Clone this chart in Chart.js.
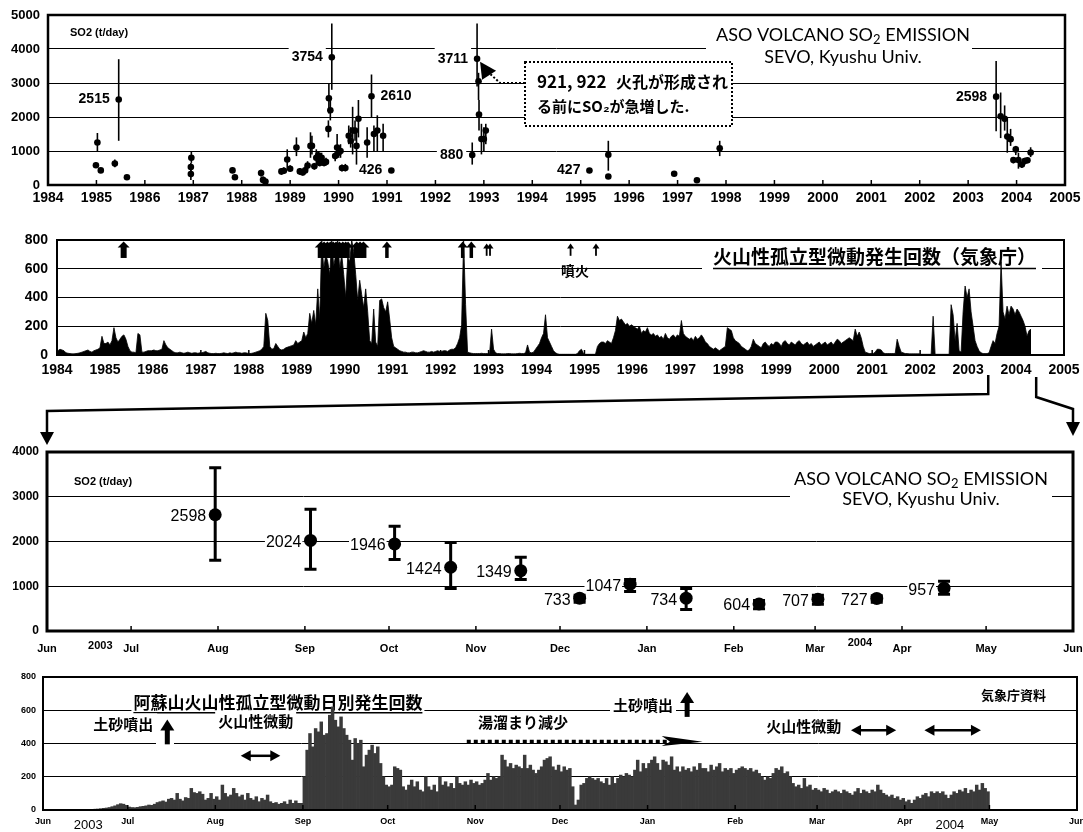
<!DOCTYPE html>
<html>
<head>
<meta charset="utf-8">
<script src="https://cdn.jsdelivr.net/npm/chart.js@4.4.1/dist/chart.umd.min.js"></script>
<style>
body { margin: 0; background: #fff; }
#wrap { position: relative; width: 1083px; height: 832px; overflow: hidden; background: #fff; }
canvas { position: absolute; left: 0; }
</style>
</head>
<body>
<div id="wrap">
<canvas id="c1" width="1083" height="212" style="top:0px"></canvas>
<canvas id="c2" width="1083" height="172" style="top:212px"></canvas>
<canvas id="c3" width="1083" height="278" style="top:384px"></canvas>
<canvas id="c4" width="1083" height="170" style="top:662px"></canvas>
<canvas id="ov" width="1083" height="832" style="top:0px"></canvas>
</div>
<script>
// ---- top panel: SO2 emission 1984-1998 (t/day) ----
var so2Years = [1984.99, 1985.02, 1985.09, 1985.38, 1985.46, 1985.63, 1986.95, 1986.95, 1986.96, 1987.81,
  1987.86, 1988.40, 1988.44, 1988.49, 1988.82, 1988.87, 1988.94, 1989.00, 1989.13, 1989.20,
  1989.26, 1989.31, 1989.36, 1989.42, 1989.45, 1989.50, 1989.54, 1989.58, 1989.61, 1989.65,
  1989.70, 1989.74, 1989.79, 1989.80, 1989.83, 1989.86, 1989.93, 1989.97, 1990.00, 1990.04,
  1990.07, 1990.14, 1990.21, 1990.25, 1990.29, 1990.34, 1990.37, 1990.41, 1990.59, 1990.68,
  1990.73, 1990.80, 1990.92, 1991.09, 1992.76, 1992.86, 1992.89, 1992.90, 1992.95, 1993.00,
  1993.04, 1995.18, 1995.57, 1995.57, 1996.93, 1997.40, 1997.87];
var so2Vals = [580, 1250, 430, 630, 2515, 230, 320, 530, 800, 430,
  230, 350, 150, 100, 400, 420, 750, 480, 1100, 400,
  370, 430, 570, 1150, 1150, 550, 800, 870, 650, 800,
  650, 680, 1650, 2550, 2200, 3754, 850, 1100, 950, 1000,
  500, 500, 1450, 1300, 1600, 1600, 1150, 1950, 1250, 2610,
  1500, 1600, 1450, 426, 880, 3711, 3050, 2070, 1350, 1350,
  1600, 427, 890, 250, 330, 140, 1080];
var so2Lo = [500, 1000, null, 520, 1300, null, 150, 400, 650, 350,
  null, 250, 50, 30, 300, 320, 450, 400, 850, 300,
  280, 330, 450, 800, 900, 450, 600, 750, 550, 650,
  550, 580, 1400, 2100, 1900, 2800, 700, 800, 800, 800,
  400, 400, 1200, 1100, 900, 1300, 600, 1400, 800, 2000,
  1000, 1000, 1000, null, 600, 2900, 2500, 1600, 900, 1000,
  1200, 350, 420, null, null, null, 850];
var so2Hi = [660, 1530, null, 750, 3700, null, 450, 650, 1000, 520,
  null, 450, 250, 170, 500, 520, 1050, 580, 1400, 500,
  470, 550, 700, 1550, 1450, 650, 1050, 1000, 750, 950,
  750, 800, 1900, 3000, 2500, 4750, 1000, 1500, 1100, 1200,
  600, 620, 1750, 1700, 2300, 1900, 1600, 2500, 1700, 3250,
  1750, 2050, 1800, null, 1250, 4750, 3300, 2500, 1800, 1700,
  1800, 500, 1300, null, null, null, 1300];
var so2Tags = [2515, 3754, 2610, 426, 880, 3711, 427, 2598];
var so2TagSide = ['l', 'l', 'r', 'l', 'l', 'l', 'l', 'l'];

// ---- SO2 2003-2004 (days from 1 Jun 2003) ----
var so3Days = [60, 94, 124, 144, 169, 190, 208, 228, 254, 275, 296, 320];
var so3Vals = [2598, 2024, 1946, 1424, 1349, 733, 1047, 734, 604, 707, 727, 957];
var so3Lo = [1580, 1380, 1600, 950, 1150, 640, 880, 480, 500, 600, 640, 820];
var so3Hi = [3650, 2720, 2340, 1980, 1650, 800, 1150, 950, 680, 800, 790, 1110];

// ---- isolated volcanic tremor counts, half-month samples ----
var tremor1984 = [30, 40, 35, 30, 15, 12, 10, 8, 8, 10, 12, 15, 20, 25, 30, 35, 25, 20, 30, 35, 40, 50, 130, 80];
var tremor1985 = [80, 90, 70, 100, 190, 120, 90, 110, 130, 140, 110, 60, 30, 20, 20, 15, 150, 140, 20, 20, 25, 30, 30, 30];
var tremor1986 = [35, 30, 30, 35, 40, 100, 70, 50, 40, 30, 20, 15, 15, 20, 15, 12, 15, 20, 15, 12, 15, 15, 12, 15];
var tremor1987 = [15, 20, 25, 15, 12, 10, 10, 12, 10, 10, 12, 15, 12, 10, 15, 12, 15, 20, 15, 15, 12, 15, 15, 12];
var tremor1988 = [10, 12, 15, 20, 25, 30, 40, 60, 290, 240, 60, 40, 45, 80, 60, 40, 35, 40, 50, 55, 60, 65, 70, 100];
var tremor1989 = [80, 90, 100, 160, 120, 150, 290, 220, 310, 210, 460, 250, 800, 600, 700, 650, 560, 800, 620, 700, 800, 600, 700, 560];
var tremor1990 = [400, 680, 650, 800, 720, 560, 380, 520, 420, 330, 460, 300, 100, 80, 320, 90, 60, 380, 390, 330, 300, 370, 250, 120];
var tremor1991 = [60, 50, 40, 30, 25, 20, 20, 15, 15, 20, 20, 15, 15, 20, 25, 30, 25, 20, 20, 25, 20, 25, 30, 25];
var tremor1992 = [25, 30, 30, 25, 35, 40, 40, 50, 80, 120, 210, 800, 350, 20, 15, 12, 10, 10, 10, 10, 12, 10, 10, 10];
var tremor1993 = [10, 180, 40, 15, 10, 10, 8, 8, 8, 10, 10, 8, 8, 8, 10, 12, 10, 10, 15, 70, 20, 15, 20, 40];
var tremor1994 = [60, 80, 120, 150, 280, 120, 90, 60, 30, 15, 8, 5, 5, 5, 5, 5, 5, 5, 5, 5, 10, 30, 40, 10];
var tremor1995 = [5, 5, 5, 5, 5, 5, 60, 80, 90, 90, 80, 100, 90, 80, 120, 170, 270, 240, 250, 230, 210, 220, 200, 210];
var tremor1996 = [200, 190, 180, 200, 150, 170, 160, 190, 150, 140, 150, 130, 140, 120, 130, 110, 150, 120, 110, 130, 140, 120, 140, 130];
var tremor1997 = [240, 150, 130, 120, 110, 120, 100, 130, 110, 120, 140, 120, 90, 80, 60, 50, 40, 50, 40, 30, 40, 50, 60, 190];
var tremor1998 = [180, 170, 120, 100, 90, 80, 60, 50, 40, 30, 35, 60, 110, 80, 70, 60, 50, 80, 90, 70, 60, 80, 70, 90];
var tremor1999 = [90, 80, 60, 90, 100, 80, 70, 90, 80, 70, 90, 100, 80, 70, 80, 90, 70, 80, 60, 70, 80, 90, 70, 80];
var tremor2000 = [90, 70, 80, 90, 70, 90, 110, 100, 80, 90, 100, 110, 120, 110, 100, 180, 130, 160, 120, 60, 20, 15, 10, 10];
var tremor2001 = [10, 20, 40, 40, 35, 15, 10, 10, 10, 10, 10, 10, 110, 60, 20, 15, 10, 10, 8, 8, 8, 8, 8, 8];
var tremor2002 = [5, 5, 5, 5, 5, 5, 270, 5, 5, 5, 5, 5, 5, 5, 5, 350, 280, 100, 220, 30, 20, 300, 480, 400];
var tremor2003 = [460, 300, 200, 100, 60, 30, 15, 10, 10, 10, 15, 60, 100, 80, 150, 200, 650, 300, 250, 340, 280, 340, 320, 280];
var tremor2004 = [320, 300, 270, 240, 200, 130, 170, 180];

// eruption arrows (year) and size: 2 thick, 1 medium, 0 thin
var eruptYears = [1985.39, 1989.50, 1989.57, 1989.64, 1989.70, 1989.76, 1989.82, 1989.89, 1989.96, 1990.02, 1990.07,
  1990.25, 1990.32, 1990.39, 1990.88, 1992.46, 1992.64, 1992.96, 1993.03, 1994.71, 1995.24];
var eruptKind = [2, 2, 2, 2, 2, 2, 2, 2, 2, 2, 1, 2, 2, 2, 1, 1, 1, 0, 0, 0, 0];

// ---- daily tremor counts Jun 2003 - Apr 2004 ----
var jun03 = [0, 0, 0, 1, 0, 0, 1, 0, 0, 1, 1, 0, 2, 1, 2, 3, 2, 4, 5, 6, 8, 10, 12, 15, 20, 25, 32, 38, 35, 28];
var jul03 = [18, 15, 14, 16, 20, 22, 25, 30, 28, 35, 45, 50, 55, 48, 65, 70, 60, 100, 65, 55, 75, 70, 130, 105, 100, 110, 95, 60, 70, 100, 65];
var aug03 = [80, 60, 150, 100, 80, 90, 130, 100, 80, 90, 60, 100, 70, 60, 80, 50, 70, 60, 90, 50, 40, 45, 35, 40, 50, 35, 60, 40, 55, 40, 40];
var sep03 = [200, 360, 460, 380, 490, 470, 530, 450, 460, 570, 620, 540, 500, 560, 490, 450, 420, 300, 430, 400, 420, 260, 330, 360, 390, 340, 380, 280, 200, 150];
var oct03 = [140, 150, 260, 250, 240, 140, 120, 150, 180, 140, 170, 120, 110, 200, 140, 120, 150, 110, 200, 150, 170, 140, 160, 130, 200, 160, 150, 170, 150, 180, 160];
var nov03 = [170, 150, 160, 180, 220, 180, 200, 190, 200, 330, 300, 260, 280, 250, 270, 260, 250, 330, 250, 270, 240, 220, 240, 260, 300, 310, 320, 260, 240, 270];
var dec03 = [230, 260, 240, 250, 140, 30, 60, 150, 160, 190, 200, 190, 180, 190, 170, 160, 190, 150, 200, 160, 190, 210, 200, 220, 210, 200, 240, 300, 230, 280, 250];
var jan04 = [280, 300, 320, 280, 240, 300, 290, 270, 320, 240, 260, 230, 260, 240, 250, 230, 260, 240, 280, 250, 250, 230, 270, 240, 260, 280, 230, 250, 240, 250, 220];
var feb04 = [240, 250, 260, 250, 240, 250, 230, 240, 220, 200, 180, 200, 190, 220, 250, 240, 260, 220, 230, 200, 160, 140, 150, 130, 190, 140, 150, 120, 130];
var mar04 = [120, 110, 130, 120, 100, 110, 120, 110, 100, 120, 110, 100, 90, 110, 130, 100, 120, 110, 100, 120, 110, 150, 120, 100, 90, 80, 90, 70, 80, 60, 70];
var apr04 = [50, 60, 40, 60, 80, 70, 90, 100, 80, 110, 100, 110, 100, 110, 90, 70, 90, 110, 100, 120, 110, 130, 100, 120, 110, 150, 120, 160, 130, 110];

var monthStart = [0, 30, 61, 92, 122, 153, 183, 214, 245, 274, 305, 335, 366];
var monthNames = ['Jun', 'Jul', 'Aug', 'Sep', 'Oct', 'Nov', 'Dec', 'Jan', 'Feb', 'Mar', 'Apr', 'May', 'Jun'];

Chart.defaults.font.family = "'Liberation Sans', Arial, sans-serif";
Chart.defaults.color = '#000';
var NARROW = "'Liberation Sans Narrow', 'Liberation Sans', Arial, sans-serif";
var JP = "'Noto Sans CJK JP', sans-serif";
var LATO = "Lato, 'Liberation Sans', sans-serif";

function dayToYear(d) { return 2003 + (151 + d) / 365; }

function put(c, s, x, y, font, align, pad) {
  c.font = font;
  c.textAlign = align;
  c.textBaseline = 'middle';
  if (pad != null) {
    var w = c.measureText(s).width;
    var x0 = align === 'right' ? x - w : (align === 'center' ? x - w / 2 : x);
    c.fillStyle = '#fff';
    c.fillRect(x0 - pad, y - 11, w + 2 * pad, 22);
  }
  c.fillStyle = '#000';
  c.fillText(s, x, y);
}

function underline(c, s, x, y, font, align, size) {
  c.font = font;
  var w = c.measureText(s).width;
  var x0 = align === 'right' ? x - w : (align === 'center' ? x - w / 2 : x);
  put(c, s, x, y, font, align);
  c.lineWidth = 1.5;
  c.beginPath(); c.moveTo(x0, y + size / 2 + 2); c.lineTo(x0 + w, y + size / 2 + 2); c.stroke();
}

function soTitle(c, cx, y, size) {
  var f = size + 'px ' + LATO, fs = Math.round(size * 0.7) + 'px ' + LATO;
  var a = 'ASO VOLCANO SO', b = ' EMISSION';
  c.font = f;
  var wa = c.measureText(a).width, wb = c.measureText(b).width;
  c.font = fs;
  var w2 = c.measureText('2').width;
  var x = cx - (wa + w2 + wb) / 2;
  c.fillStyle = '#000'; c.textAlign = 'left'; c.textBaseline = 'middle';
  c.font = f; c.fillText(a, x, y);
  c.font = fs; c.fillText('2', x + wa, y + size * 0.28);
  c.font = f; c.fillText(b, x + wa + w2, y);
}

function upArrow(c, x, yTip, yTail, sw, hw, hl) {
  c.fillRect(x - sw / 2, yTip + hl - 1, sw, yTail - yTip - hl + 1);
  c.beginPath(); c.moveTo(x, yTip); c.lineTo(x - hw, yTip + hl); c.lineTo(x + hw, yTip + hl); c.closePath(); c.fill();
}

function dblArrow(c, x1, x2, y) {
  c.lineWidth = 2.5;
  c.beginPath(); c.moveTo(x1 + 6, y); c.lineTo(x2 - 6, y); c.stroke();
  c.beginPath(); c.moveTo(x1, y); c.lineTo(x1 + 10, y - 5.5); c.lineTo(x1 + 10, y + 5.5); c.closePath(); c.fill();
  c.beginPath(); c.moveTo(x2, y); c.lineTo(x2 - 10, y - 5.5); c.lineTo(x2 - 10, y + 5.5); c.closePath(); c.fill();
}

function framePlugin(w) {
  return {
    id: 'frame',
    afterDraw: function (chart) {
      var a = chart.chartArea, c = chart.ctx, xs = chart.scales.x;
      c.save();
      c.strokeStyle = '#000';
      c.lineWidth = 1.5;
      xs.ticks.forEach(function (t) {
        var x = xs.getPixelForValue(t.value);
        c.beginPath(); c.moveTo(x, a.bottom); c.lineTo(x, a.bottom - 5); c.stroke();
      });
      c.lineWidth = w;
      c.strokeRect(a.left, a.top, a.right - a.left, a.bottom - a.top);
      c.restore();
    }
  };
}

// fixed axis sizes, no automatic label padding
function fixH(h) { return function (s) { s.height = h; s.paddingLeft = 0; s.paddingRight = 0; }; }
function fixW(w) { return function (s) { s.width = w; s.paddingTop = 0; s.paddingBottom = 0; }; }

function baseOpts(pad) {
  return {
    responsive: false,
    animation: false,
    layout: { padding: pad },
    plugins: { legend: { display: false }, tooltip: { enabled: false } },
    scales: {}
  };
}

function yearAxis(pad, h) {
  return {
    type: 'linear', min: 1984, max: 2005, offset: false,
    grid: { display: false, drawTicks: false }, border: { display: false },
    ticks: { stepSize: 1, padding: pad, autoSkip: false, maxRotation: 0, font: { size: 14, weight: 'bold' }, callback: function (v) { return String(v); } },
    afterFit: fixH(h)
  };
}

function monthAxis(pad, size, h) {
  return {
    type: 'linear', min: 0, max: 366, offset: false,
    grid: { display: false, drawTicks: false }, border: { display: false },
    afterBuildTicks: function (s) { s.ticks = monthStart.map(function (v) { return { value: v }; }); },
    ticks: { padding: pad, autoSkip: false, maxRotation: 0, font: { size: size, weight: 'bold', family: NARROW }, callback: function (v, i) { return monthNames[i]; } },
    afterFit: fixH(h)
  };
}

function valAxis(max, step, size, pad, w) {
  return {
    min: 0, max: max,
    grid: { color: '#000', lineWidth: 1, drawTicks: false }, border: { display: false },
    ticks: { stepSize: step, padding: pad, font: { size: size, weight: 'bold', family: size < 13 ? NARROW : undefined }, callback: function (v) { return String(v); } },
    afterFit: fixW(w)
  };
}

// ================= chart 1 =================
var c1x = so2Years.concat(so3Days.map(dayToYear));
var c1v = so2Vals.concat(so3Vals);
var c1lo = so2Lo.concat(so3Lo);
var c1hi = so2Hi.concat(so3Hi);

var o1 = baseOpts({ top: 15, right: 18, left: 0, bottom: 0 });
o1.scales = { x: yearAxis(5, 27), y: valAxis(5000, 1000, 13, 8, 48) };

var ch1 = new Chart(document.getElementById('c1'), {
  type: 'scatter',
  data: { datasets: [{ data: c1x.map(function (x, i) { return { x: x, y: c1v[i] }; }), pointRadius: 3.3, pointBackgroundColor: '#000', pointBorderWidth: 0 }] },
  options: o1,
  plugins: [{
    id: 'p1',
    beforeDatasetsDraw: function (chart) {
      var c = chart.ctx, xs = chart.scales.x, ys = chart.scales.y, a = chart.chartArea;
      c.save();
      // title block
      c.fillStyle = '#fff';
      c.fillRect(706, a.top + 10, 266, 42);
      soTitle(c, 843, a.top + 20, 18);
      put(c, 'SEVO, Kyushu Univ.', 843, a.top + 42, '18px ' + LATO, 'center');
      put(c, 'SO2 (t/day)', a.left + 22, a.top + 18, 'bold 11px ' + NARROW, 'left');
      // note box
      c.fillStyle = '#fff';
      c.fillRect(525, 62, 207, 64);
      c.setLineDash([2, 2]); c.lineWidth = 2; c.strokeStyle = '#000';
      c.strokeRect(525, 62, 207, 64);
      c.setLineDash([]);
      put(c, '921, 922', 537, 82, 'bold 17px ' + JP, 'left');
      put(c, '火孔が形成され', 728, 82, 'bold 16px ' + JP, 'right');
      put(c, 'る前にSO₂が急増した.', 537, 106, 'bold 15px ' + JP, 'left');
      // value tags
      so2Tags.forEach(function (v, k) {
        var i = c1v.indexOf(v);
        var px = xs.getPixelForValue(c1x[i]), py = ys.getPixelForValue(v);
        if (so2TagSide[k] === 'l') put(c, String(v), px - 9, py, 'bold 14px ' + NARROW, 'right', 3);
        else put(c, String(v), px + 9, py, 'bold 14px ' + NARROW, 'left', 3);
      });
      // error bars
      c.strokeStyle = '#000'; c.lineWidth = 1.6;
      c1x.forEach(function (x, i) {
        if (c1lo[i] == null) return;
        var px = xs.getPixelForValue(x);
        c.beginPath(); c.moveTo(px, ys.getPixelForValue(c1lo[i])); c.lineTo(px, ys.getPixelForValue(c1hi[i])); c.stroke();
      });
      c.restore();
    },
    afterDatasetsDraw: function (chart) {
      var c = chart.ctx, xs = chart.scales.x, ys = chart.scales.y;
      var i = c1v.indexOf(3711);
      var px = xs.getPixelForValue(c1x[i]) + 3, py = ys.getPixelForValue(3711) + 3;
      c.save();
      c.strokeStyle = '#000'; c.fillStyle = '#000'; c.lineWidth = 2;
      c.setLineDash([2, 2]);
      c.beginPath(); c.moveTo(525, 83); c.lineTo(500, 83); c.lineTo(px + 10, py + 12); c.stroke();
      c.setLineDash([]);
      c.beginPath(); c.moveTo(px, py); c.lineTo(px + 2, py + 18); c.lineTo(px + 16, py + 9); c.closePath(); c.fill();
      c.restore();
    }
  }, framePlugin(2.5)]
});

// ================= chart 2 =================
var tremorByYear = [tremor1984, tremor1985, tremor1986, tremor1987, tremor1988, tremor1989, tremor1990, tremor1991,
  tremor1992, tremor1993, tremor1994, tremor1995, tremor1996, tremor1997, tremor1998, tremor1999, tremor2000,
  tremor2001, tremor2002, tremor2003, tremor2004];
var tremorPts = [];
tremorByYear.forEach(function (arr, k) {
  arr.forEach(function (v, i) { tremorPts.push({ x: 1984 + k + (i + 0.5) / 24, y: v }); });
});

var o2 = baseOpts({ top: 28, right: 19, left: 0, bottom: 0 });
o2.scales = { x: yearAxis(7, 29), y: valAxis(800, 200, 14, 9, 57) };

var ch2 = new Chart(document.getElementById('c2'), {
  type: 'line',
  data: { datasets: [{ data: tremorPts, fill: 'origin', backgroundColor: '#000', borderColor: '#000', borderWidth: 0.8, pointRadius: 0, tension: 0 }] },
  options: o2,
  plugins: [{
    id: 'p2',
    beforeDatasetsDraw: function (chart) {
      var c = chart.ctx, a = chart.chartArea;
      c.save();
      c.fillStyle = '#fff';
      c.fillRect(702, a.top + 6, 340, 24);
      underline(c, '火山性孤立型微動発生回数（気象庁）', a.right - 28, a.top + 17, 'bold 19px ' + JP, 'right', 19);
      c.restore();
    },
    afterDatasetsDraw: function (chart) {
      var c = chart.ctx, xs = chart.scales.x, ys = chart.scales.y;
      c.save();
      c.fillStyle = '#000';
      eruptYears.forEach(function (yr, i) {
        var k = eruptKind[i], x = xs.getPixelForValue(yr);
        var tip = ys.getPixelForValue(k === 0 ? 775 : 790), tail = ys.getPixelForValue(k === 0 ? 690 : 675);
        var sw = [1.8, 3.5, 6][k], hw = [3.5, 5, 6][k], hl = [5, 6, 6][k];
        upArrow(c, x, tip, tail, sw, hw, hl);
      });
      put(c, '噴火', xs.getPixelForValue(1994.8), ys.getPixelForValue(590), 'bold 14px ' + JP, 'center');
      c.restore();
    }
  }, framePlugin(2)]
});

// ================= chart 3 =================
var o3 = baseOpts({ top: 68, right: 10, left: 0, bottom: 0 });
o3.scales = { x: monthAxis(11, 11, 31), y: valAxis(4000, 1000, 12, 8, 47) };

var ch3 = new Chart(document.getElementById('c3'), {
  type: 'scatter',
  data: { datasets: [{ data: so3Days.map(function (d, i) { return { x: d, y: so3Vals[i] }; }), pointRadius: 6.5, pointBackgroundColor: '#000', pointBorderWidth: 0 }] },
  options: o3,
  plugins: [{
    id: 'p3',
    beforeDatasetsDraw: function (chart) {
      var c = chart.ctx, xs = chart.scales.x, ys = chart.scales.y, a = chart.chartArea;
      c.save();
      c.fillStyle = '#fff';
      c.fillRect(790, a.top + 12, 262, 44);
      soTitle(c, 921, a.top + 27, 18);
      put(c, 'SEVO, Kyushu Univ.', 921, a.top + 47, '18px ' + LATO, 'center');
      put(c, 'SO2 (t/day)', a.left + 27, a.top + 30, 'bold 11px ' + NARROW, 'left');
      so3Days.forEach(function (d, i) {
        var px = xs.getPixelForValue(d), py = ys.getPixelForValue(so3Vals[i]);
        put(c, String(so3Vals[i]), px - 9, py + 2, '16px ' + NARROW, 'right', 1);
      });
      c.strokeStyle = '#000'; c.lineWidth = 3;
      so3Days.forEach(function (d, i) {
        var px = xs.getPixelForValue(d), lo = ys.getPixelForValue(so3Lo[i]), hi = ys.getPixelForValue(so3Hi[i]);
        c.beginPath(); c.moveTo(px, lo); c.lineTo(px, hi);
        c.moveTo(px - 6, lo); c.lineTo(px + 6, lo);
        c.moveTo(px - 6, hi); c.lineTo(px + 6, hi);
        c.stroke();
      });
      put(c, '2003', xs.getPixelForValue(19), a.bottom + 15, 'bold 11px ' + NARROW, 'center');
      put(c, '2004', xs.getPixelForValue(290), a.bottom + 12, 'bold 11px ' + NARROW, 'center');
      c.restore();
    }
  }, framePlugin(3)]
});

// ================= chart 4 =================
var daily = [].concat(jun03, jul03, aug03, sep03, oct03, nov03, dec03, jan04, feb04, mar04, apr04);

var o4 = baseOpts({ top: 15, right: 6, left: 0, bottom: 0 });
o4.scales = { x: monthAxis(6, 9, 22), y: valAxis(800, 200, 9, 7, 43) };

var ch4 = new Chart(document.getElementById('c4'), {
  type: 'bar',
  data: { datasets: [{ data: daily.map(function (v, i) { return { x: i + 0.5, y: v }; }), backgroundColor: '#3a3a3a', borderColor: '#000', borderWidth: 0, barPercentage: 1, categoryPercentage: 1 }] },
  options: o4,
  plugins: [{
    id: 'p4',
    beforeDatasetsDraw: function (chart) {
      var c = chart.ctx, xs = chart.scales.x, ys = chart.scales.y, a = chart.chartArea;
      function X(d) { return xs.getPixelForValue(d); }
      function Y(v) { return ys.getPixelForValue(v); }
      c.save();
      c.fillStyle = '#000'; c.strokeStyle = '#000';
      var title = '阿蘇山火山性孤立型微動日別発生回数';
      put(c, title, X(32), Y(645), 'bold 17px ' + JP, 'left', 2);
      c.lineWidth = 1.5;
      c.font = 'bold 17px ' + JP;
      var tw = c.measureText(title).width;
      c.beginPath(); c.moveTo(X(32), Y(645) + 10); c.lineTo(X(32) + tw, Y(645) + 10); c.stroke();

      put(c, '土砂噴出', X(39), Y(515), 'bold 15px ' + JP, 'right', 4);
      c.fillStyle = '#fff'; c.fillRect(X(40), Y(560), 18, 30);
      c.fillStyle = '#000';
      upArrow(c, X(44), Y(545), Y(395), 5, 7, 11);
      put(c, '火山性微動', X(62), Y(533), 'bold 15px ' + JP, 'left', 3);
      dblArrow(c, X(70), X(84), Y(326));

      put(c, '湯溜まり減少', X(154), Y(527), 'bold 15px ' + JP, 'left', 3);
      c.lineWidth = 4; c.setLineDash([4, 3]);
      c.beginPath(); c.moveTo(X(150), Y(410)); c.lineTo(X(224), Y(410)); c.stroke();
      c.setLineDash([]);
      c.beginPath();
      c.moveTo(X(233.5), Y(410)); c.lineTo(X(219), Y(445)); c.lineTo(X(222), Y(410)); c.lineTo(X(219), Y(385)); c.closePath(); c.fill();

      put(c, '土砂噴出', X(223), Y(628), 'bold 15px ' + JP, 'right', 3);
      upArrow(c, X(228), Y(710), Y(560), 5, 7, 11);
      put(c, '火山性微動', X(256), Y(504), 'bold 15px ' + JP, 'left', 3);
      dblArrow(c, X(286), X(302), Y(480));
      dblArrow(c, X(312), X(332), Y(480));
      put(c, '気象庁資料', X(355), Y(693), 'bold 13px ' + JP, 'right');

      put(c, '2003', X(16), a.bottom + 15, '13px ' + NARROW, 'center');
      put(c, '2004', X(321), a.bottom + 15, '13px ' + NARROW, 'center');
      c.restore();
    }
  }, framePlugin(2)]
});

// ================= connectors between panel 2 and panel 3 =================
(function () {
  var c = document.getElementById('ov').getContext('2d');
  var t2 = 212, t3 = 384;
  var a3 = ch3.chartArea;
  var xa = ch2.scales.x.getPixelForValue(2003.42), xb = ch2.scales.x.getPixelForValue(2004.42);
  var top3 = t3 + a3.top;
  c.strokeStyle = '#000'; c.fillStyle = '#000'; c.lineWidth = 2.5;
  c.beginPath();
  c.moveTo(xa, t2 + ch2.chartArea.bottom + 20); c.lineTo(xa, 394); c.lineTo(a3.left, 411); c.lineTo(a3.left, top3 - 18);
  c.stroke();
  c.beginPath(); c.moveTo(a3.left, top3 - 7); c.lineTo(a3.left - 7, top3 - 20); c.lineTo(a3.left + 7, top3 - 20); c.closePath(); c.fill();
  c.beginPath();
  c.moveTo(xb, t2 + ch2.chartArea.bottom + 22); c.lineTo(xb, 397); c.lineTo(a3.right, 409); c.lineTo(a3.right, top3 - 28);
  c.stroke();
  c.beginPath(); c.moveTo(a3.right, top3 - 16); c.lineTo(a3.right - 7, top3 - 30); c.lineTo(a3.right + 7, top3 - 30); c.closePath(); c.fill();
})();
</script>
</body>
</html>
